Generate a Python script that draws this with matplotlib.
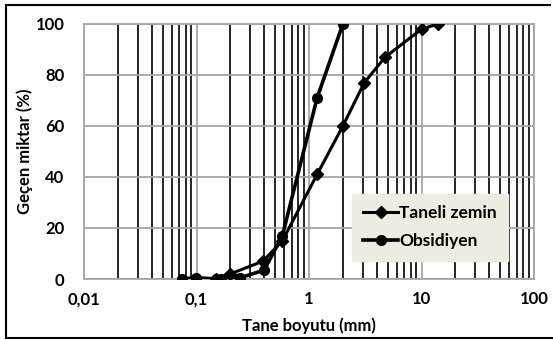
import numpy as np
from matplotlib import pyplot as plt
from matplotlib.lines import Line2D
from matplotlib.ticker import FixedLocator, LogLocator, NullFormatter

plt.rcParams['font.family'] = ['Lato', 'DejaVu Sans']
plt.rcParams['font.weight'] = 'bold'

# grain size (mm) and passing percent
taneli_x = [0.15, 0.2, 0.39, 0.58, 1.18, 2.0, 3.1, 4.75, 10, 14]
taneli_y = [0, 2, 7, 15, 41, 60, 77, 87, 98, 100]
obsidiyen_x = [0.075, 0.098, 0.15, 0.165, 0.245, 0.40, 0.58, 1.18, 2.0]
obsidiyen_y = [0, 0.5, 0, 0, 0.5, 3.5, 17, 71, 100]

xticks = [0.01, 0.1, 1, 10, 100]
xlabels = ['0,01', '0,1', '1', '10', '100']
yticks = [0, 20, 40, 60, 80, 100]

fig = plt.figure(figsize=(5.53, 3.40), dpi=100)
ax = fig.add_axes([84/553, 1 - 279/340, 450/553, 255/340])

ax.set_xscale('log')
ax.set_xlim(0.01, 100)
ax.set_ylim(0, 100)

# gray major grid, black minor verticals (Excel style)
ax.xaxis.set_major_locator(FixedLocator(xticks))
ax.set_xticklabels(xlabels)
ax.xaxis.set_minor_locator(LogLocator(base=10, subs=np.arange(2, 10)))
ax.xaxis.set_minor_formatter(NullFormatter())
ax.set_yticks(yticks)
ax.grid(which='major', color='#a6a6a6', lw=1.3, zorder=0)
ax.grid(which='minor', axis='x', color='black', lw=1.2, zorder=0)
ax.set_axisbelow(True)
ax.tick_params(which='both', length=0)
ax.tick_params(axis='x', pad=9, labelsize=12)
ax.tick_params(axis='y', pad=14, labelsize=12)
for s in ax.spines.values():
    s.set_color('#a6a6a6')
    s.set_linewidth(1.3)

ax.plot(taneli_x, taneli_y, color='black', lw=2.2, marker='D', ms=6.5,
        label='Taneli zemin', zorder=3)
ax.plot(obsidiyen_x, obsidiyen_y, color='black', lw=2.6, marker='o', ms=7,
        label='Obsidiyen', zorder=3)

leg = ax.legend(loc='center', bbox_to_anchor=(0.769, 0.203), fontsize=12.5,
                frameon=True, fancybox=False, facecolor='#eeece1',
                edgecolor='#eeece1', framealpha=1, handlelength=2.0,
                handletextpad=0.05, labelspacing=0.7, borderpad=0.65)

ax.set_xlabel('Tane boyutu (mm)', fontsize=12, fontweight='bold', labelpad=7)
ax.set_ylabel('Geçen miktar (%)', fontsize=12, fontweight='bold')
ax.yaxis.set_label_coords(-0.113, 0.5)

# outer chart border
for xs, ys in [([6/553, 6/553], [1 - 5/340, 1 - 338/340]),
               ([6/553, 550/553], [1 - 5/340, 1 - 5/340]),
               ([6/553, 553/553], [1 - 338/340, 1 - 338/340])]:
    fig.add_artist(Line2D(xs, ys, color='black', lw=1.5))

fig.savefig('out.png', dpi=100)
